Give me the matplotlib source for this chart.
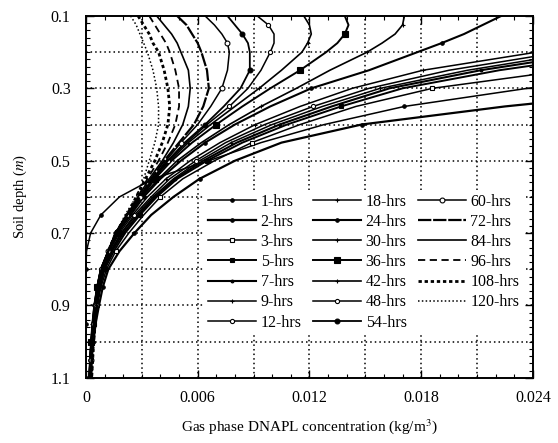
import numpy as np
import matplotlib
matplotlib.use("Agg")
import matplotlib.pyplot as plt
from matplotlib.ticker import MultipleLocator

plt.rcParams['font.family'] = ['Liberation Serif', 'DejaVu Serif']
plt.rcParams['mathtext.fontset'] = 'stix'

# depth grid (m) shared by every profile
depth = [0.10, 0.125, 0.15, 0.175, 0.20, 0.25, 0.30, 0.35, 0.40, 0.45, 0.50, 0.55,
         0.60, 0.65, 0.70, 0.75, 0.80, 0.85, 0.90, 0.95, 1.00, 1.05, 1.10]

nan = np.nan
c1 = [nan, nan, nan, nan, nan, 0.033, 0.0237, 0.0171, 0.0128, 0.0094, 0.0066, 0.0036,
      0.0018, 0.0008, 0.00025, 0.00003, 0.0, 0.0, 0.0, 0.0, 0.0, 0.0, 0.0]
c2 = [nan, nan, nan, nan, nan, 0.041, 0.032, 0.0225, 0.0148, 0.0105, 0.0080, 0.0061,
      0.0047, 0.0035, 0.0026, 0.0018, 0.0012, 0.0009, 0.0007, 0.00052, 0.0004, 0.0003, 0.00022]
c3 = [nan, nan, nan, nan, 0.034, 0.0258, 0.0186, 0.0145, 0.0115, 0.0089, 0.0069, 0.0052,
      0.0040, 0.0031, 0.0023, 0.0016, 0.0011, 0.0008, 0.0006, 0.00045, 0.00035, 0.00026, 0.0002]
c5 = [nan, nan, nan, 0.033, 0.029, 0.0222, 0.0170, 0.0137, 0.0108, 0.0084, 0.0065, 0.0049,
      0.0038, 0.0029, 0.0021, 0.0015, 0.0010, 0.00075, 0.00056, 0.00042, 0.00032, 0.00025, 0.0002]
c7 = [nan, nan, nan, 0.031, 0.0275, 0.0212, 0.0163, 0.0132, 0.0104, 0.0081, 0.0063, 0.0048,
      0.0037, 0.0028, 0.0020, 0.0014, 0.00095, 0.0007, 0.00052, 0.0004, 0.0003, 0.00024, 0.00019]
c9 = [nan, nan, 0.033, 0.0298, 0.0265, 0.0205, 0.0158, 0.0127, 0.0100, 0.0078, 0.0061, 0.0047,
      0.0036, 0.0027, 0.0019, 0.00135, 0.0009, 0.00066, 0.0005, 0.00038, 0.00029, 0.00023, 0.00018]
c12 = [nan, nan, 0.032, 0.0287, 0.0255, 0.0195, 0.0152, 0.0122, 0.0096, 0.0075, 0.0059, 0.0045,
       0.0035, 0.0026, 0.0019, 0.0013, 0.00088, 0.00064, 0.00048, 0.00037, 0.00028, 0.00022, 0.00018]
c18 = [nan, 0.033, 0.0305, 0.0273, 0.0242, 0.0181, 0.0143, 0.0115, 0.0091, 0.0072, 0.0056, 0.0043,
       0.0033, 0.0025, 0.0018, 0.00125, 0.00085, 0.00062, 0.00047, 0.00036, 0.00028, 0.00022, 0.00018]
c24 = [0.0223, 0.0213, 0.0203, 0.0191, 0.0178, 0.0152, 0.0121, 0.0099, 0.0080, 0.0064, 0.0051, 0.0040,
       0.0031, 0.0024, 0.0017, 0.0012, 0.0008, 0.0006, 0.00045, 0.00035, 0.00028, 0.00022, 0.00018]
c30 = [0.0171, 0.0170, 0.0166, 0.0159, 0.0151, 0.0131, 0.0113, 0.0094, 0.0077, 0.0062, 0.0049, 0.0039,
       0.0030, 0.0023, 0.0017, 0.0012, 0.0008, 0.0006, 0.00045, 0.00035, 0.00028, 0.00022, 0.00018]
c36 = [0.0139, 0.0141, 0.0139, 0.0135, 0.0129, 0.0115, 0.0099, 0.0084, 0.0070, 0.0057, 0.0046, 0.0037,
       0.0030, 0.0023, 0.0017, 0.0012, 0.0008, 0.0006, 0.00046, 0.00036, 0.00029, 0.00023, 0.00019]
c42 = [0.0117, 0.0120, 0.0121, 0.0119, 0.0116, 0.0105, 0.0093, 0.0080, 0.0067, 0.0055, 0.0045, 0.0036,
       0.0029, 0.0022, 0.0016, 0.0012, 0.0008, 0.0006, 0.00047, 0.00037, 0.0003, 0.00024, 0.0002]
c48 = [0.0092, 0.0098, 0.0101, 0.0101, 0.0099, 0.0094, 0.0087, 0.0077, 0.0065, 0.0054, 0.0044, 0.0036,
       0.0029, 0.0022, 0.0016, 0.0012, 0.0008, 0.0006, 0.00048, 0.00038, 0.0003, 0.00025, 0.0002]
c54 = [0.0076, 0.0080, 0.0084, 0.0087, 0.0088, 0.0088, 0.0083, 0.0074, 0.0064, 0.0053, 0.0044, 0.0036,
       0.0029, 0.0022, 0.0016, 0.0012, 0.00082, 0.00062, 0.0005, 0.0004, 0.00032, 0.00026, 0.00021]
c60 = [0.0064, 0.0069, 0.0073, 0.0076, 0.0077, 0.0076, 0.0073, 0.0067, 0.0060, 0.0051, 0.0043, 0.0036,
       0.0029, 0.0022, 0.0016, 0.0012, 0.00085, 0.00065, 0.00052, 0.00042, 0.00034, 0.00028, 0.00023]
c72 = [0.0049, 0.0054, 0.0057, 0.0060, 0.0062, 0.0065, 0.0066, 0.0063, 0.0058, 0.0050, 0.0042, 0.0035,
       0.0029, 0.0022, 0.0016, 0.0012, 0.00088, 0.00068, 0.00055, 0.00044, 0.00036, 0.0003, 0.00025]
c84 = [0.0038, 0.0042, 0.0046, 0.0049, 0.0051, 0.0055, 0.0056, 0.0055, 0.0052, 0.0047, 0.0041, 0.0034,
       0.0028, 0.0022, 0.0016, 0.0012, 0.0009, 0.0007, 0.00057, 0.00046, 0.00038, 0.00032, 0.00027]
c96 = [0.0034, 0.0037, 0.0040, 0.0043, 0.0045, 0.0048, 0.0050, 0.0050, 0.0048, 0.0044, 0.0039, 0.0033,
       0.0028, 0.0022, 0.0016, 0.0012, 0.00092, 0.00072, 0.00058, 0.00048, 0.0004, 0.00034, 0.00029]
c108 = [0.0028, 0.0031, 0.0034, 0.0036, 0.0039, 0.0042, 0.0044, 0.0045, 0.0044, 0.0041, 0.0037, 0.0032,
        0.0027, 0.0022, 0.0016, 0.0012, 0.00094, 0.00074, 0.0006, 0.0005, 0.00042, 0.00036, 0.00031]
c120 = [0.0024, 0.0027, 0.0029, 0.0031, 0.0033, 0.0036, 0.0038, 0.0039, 0.0039, 0.0037, 0.0034, 0.0031,
        0.0027, 0.0021, 0.0016, 0.0012, 0.00095, 0.00075, 0.00062, 0.00052, 0.00044, 0.00038, 0.00033]

labels = ['1-hrs', '2-hrs', '3-hrs', '5-hrs', '7-hrs', '9-hrs', '12-hrs',
          '18-hrs', '24-hrs', '30-hrs', '36-hrs', '42-hrs', '48-hrs', '54-hrs',
          '60-hrs', '72-hrs', '84-hrs', '96-hrs', '108-hrs', '120-hrs']
profiles = [c1, c2, c3, c5, c7, c9, c12, c18, c24, c30, c36, c42, c48, c54,
            c60, c72, c84, c96, c108, c120]

# (linestyle, linewidth, marker, markersize, marker face)
styles = [
    ('-', 1.1, 'o', 2.5, 'k'),
    ('-', 1.6, 'o', 2.5, 'k'),
    ('-', 1.1, 's', 3.5, 'w'),
    ('-', 1.4, 's', 3.5, 'k'),
    ('-', 1.5, 'o', 2.0, 'k'),
    ('-', 1.1, '+', 3.0, 'k'),
    ('-', 1.1, 'o', 3.0, 'w'),
    ('-', 1.1, '+', 3.0, 'k'),
    ('-', 1.5, 'o', 2.5, 'k'),
    ('-', 1.2, '+', 3.5, 'k'),
    ('-', 1.4, 's', 4.0, 'k'),
    ('-', 1.2, '+', 3.0, 'k'),
    ('-', 1.1, 'o', 3.0, 'w'),
    ('-', 1.3, 'o', 3.5, 'k'),
    ('-', 1.1, 'o', 3.5, 'w'),
    ((0, (6, 0.8)), 1.6, None, 0, 'k'),
    ('-', 1.2, None, 0, 'k'),
    ((0, (4, 2.5)), 1.3, None, 0, 'k'),
    ((0, (1.2, 1.0)), 2.0, None, 0, 'k'),
    ((0, (1, 1.5)), 1.1, None, 0, 'k'),
]

fig = plt.figure(figsize=(5.58, 4.43), dpi=100)
ax = fig.add_axes([0.154, 0.147, 0.801, 0.817])

# dotted grid every 0.003 / 0.1
for gx in np.arange(0.003, 0.024, 0.003):
    ax.axvline(gx, color='k', ls=(0, (1, 2)), lw=1.1, zorder=0)
for gy in np.arange(0.2, 1.1, 0.1):
    ax.axhline(gy, color='k', ls=(0, (1, 2)), lw=1.1, zorder=0)

for i, (prof, lab, st) in enumerate(zip(profiles, labels, styles)):
    ls, lw, mk, ms, mfc = st
    ax.plot(prof, depth, color='k', ls=ls, lw=lw, marker=mk, ms=ms,
            mfc=mfc, mec='k', mew=0.8, markevery=(i % 3 + 1, 3),
            label=lab, zorder=2)

ax.set_xlim(0, 0.024)
ax.set_ylim(1.1, 0.1)
ax.set_xticks([0, 0.006, 0.012, 0.018, 0.024])
ax.set_xticklabels(['0', '0.006', '0.012', '0.018', '0.024'])
ax.set_yticks([0.1, 0.3, 0.5, 0.7, 0.9, 1.1])
ax.set_yticklabels(['0.1', '0.3', '0.5', '0.7', '0.9', '1.1'])
ax.xaxis.set_minor_locator(MultipleLocator(0.001))
ax.yaxis.set_minor_locator(MultipleLocator(0.02))
ax.tick_params(which='both', direction='in', top=True, right=True, labelsize=11.5)
ax.tick_params(which='major', length=6, width=1.0)
ax.tick_params(which='minor', length=3, width=0.8)
ax.tick_params(axis='x', pad=9)
ax.tick_params(axis='y', pad=11)
for sp in ax.spines.values():
    sp.set_linewidth(1.4)

ax.set_xlabel(r'Gas phase DNAPL concentration (kg/m$^3$)', fontsize=11, labelpad=8)
ax.set_ylabel(r'Soil depth ($m$)', fontsize=10.5, labelpad=16)

leg = ax.legend(ncol=3, loc='lower right', bbox_to_anchor=(0.995, 0.1),
                fontsize=11.5, frameon=True, framealpha=1, facecolor='white',
                edgecolor='none', handlelength=3.0, handletextpad=0.3,
                columnspacing=0.7, labelspacing=0.26, borderpad=0.2)
leg.set_zorder(5)

fig.savefig('out.png', dpi=100)
